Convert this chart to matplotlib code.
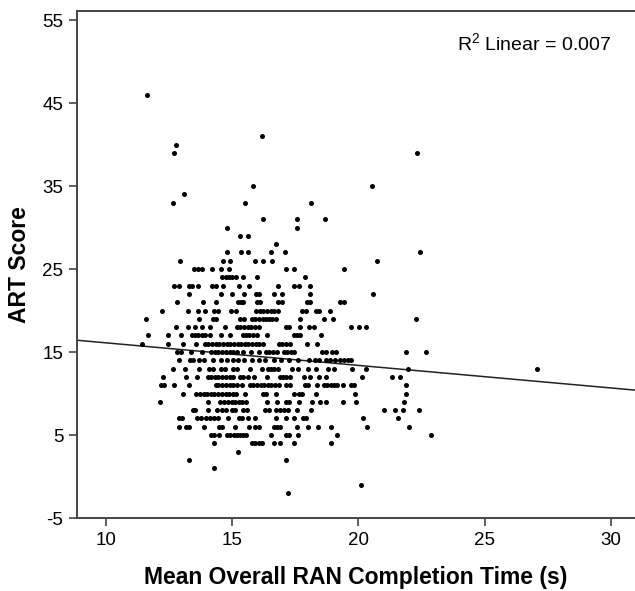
import matplotlib
matplotlib.use("Agg")
import matplotlib.pyplot as plt
import numpy as np

plt.rcParams['font.family'] = ['Liberation Sans', 'DejaVu Sans']
plt.rcParams['axes.unicode_minus'] = False

# ART score levels (integer scores) and the RAN times (s) of the children at each level
score_levels = [46, 41, 40, 39, 35, 34, 33, 31, 30, 29, 28, 27, 26, 25, 24, 23, 22, 21,
                20, 19, 18, 17, 16, 15, 14, 13, 12, 11, 10, 9, 8, 7, 6, 5, 4, 3, 2, 1, -1, -2]

times_by_score = [
    [11.63],
    [16.18],
    [12.80],
    [12.69, 22.34],
    [15.84, 20.53],
    [13.10],
    [12.66, 15.52, 18.13],
    [16.24, 17.57, 18.67],
    [14.78, 17.57],
    [15.31, 15.62],
    [16.74],
    [14.78, 15.34, 15.62, 16.56, 17.10, 22.42],
    [12.94, 14.64, 14.93, 15.90, 16.21, 16.59, 20.75],
    [13.50, 13.65, 13.79, 14.21, 14.58, 14.86, 17.15, 17.47, 19.44],
    [14.61, 14.74, 14.88, 15.01, 15.14, 15.42, 16.00, 17.90],
    [12.72, 12.88, 13.31, 13.42, 13.66, 14.22, 14.35, 14.64, 15.28, 15.66, 16.82, 17.46,
     17.65, 18.10],
    [13.30, 14.56, 15.01, 15.46, 15.95, 16.08, 16.66, 16.99, 18.10, 20.59],
    [12.83, 13.86, 14.38, 15.23, 15.34, 15.42, 15.97, 16.10, 16.82, 16.96, 17.97, 18.10,
     19.28, 19.44],
    [12.21, 13.25, 13.65, 13.92, 14.29, 14.43, 14.95, 15.14, 15.95, 16.10, 16.24, 16.38,
     16.53, 16.67, 16.82, 17.76, 17.92, 18.34, 18.46, 18.88],
    [11.58, 13.70, 14.24, 14.37, 15.31, 15.46, 15.78, 15.92, 16.06, 16.21, 16.34, 16.46,
     16.59, 16.74, 17.68, 18.64, 19.01, 22.29],
    [12.78, 13.25, 13.52, 13.79, 14.11, 14.72, 15.18, 15.33, 15.47, 15.62, 15.76, 15.90,
     16.08, 17.14, 17.26, 17.70, 18.03, 18.24, 19.70, 20.02, 20.32],
    [11.68, 12.48, 12.99, 13.41, 13.54, 13.66, 13.79, 13.92, 14.14, 14.56, 14.91, 15.42,
     15.55, 15.68, 15.82, 15.97, 16.37, 17.44, 17.57, 17.70, 18.53],
    [11.44, 12.48, 13.06, 13.58, 13.92, 14.06, 14.21, 14.35, 14.50, 14.64, 14.78, 14.93,
     15.07, 15.22, 15.36, 15.50, 15.65, 15.79, 15.94, 16.08, 16.22, 16.85, 16.99, 17.14,
     17.30, 17.95, 18.38],
    [12.82, 12.96, 13.38, 13.81, 14.18, 14.32, 14.46, 14.61, 14.75, 14.90, 15.04, 15.18,
     15.44, 15.73, 16.08, 16.34, 16.48, 16.62, 16.77, 17.04, 17.18, 17.33, 17.47, 18.56,
     18.70, 18.96, 19.10, 21.90, 22.69],
    [12.91, 13.33, 13.44, 13.70, 13.89, 14.24, 14.56, 14.80, 15.04, 15.25, 15.46, 15.79,
     16.08, 16.32, 16.64, 16.93, 17.26, 17.60, 18.03, 18.30, 18.43, 18.72, 18.88, 19.06,
     19.28, 19.42, 19.57, 19.71],
    [12.67, 13.12, 13.68, 14.10, 14.24, 14.56, 14.72, 15.02, 15.18, 15.70, 16.18, 16.43,
     16.54, 16.66, 16.80, 17.36, 17.60, 18.00, 18.32, 18.80, 19.04, 19.73, 20.30, 21.95,
     27.07],
    [12.27, 13.17, 13.63, 14.03, 14.16, 14.32, 14.46, 14.61, 14.75, 14.90, 15.04, 15.31,
     15.44, 15.63, 15.86, 16.40, 16.88, 17.01, 17.15, 17.30, 17.84, 18.10, 18.43, 18.70,
     20.16, 21.33, 21.63],
    [12.19, 12.32, 12.69, 13.31, 14.35, 14.46, 14.61, 14.75, 14.90, 15.04, 15.18, 15.41,
     15.70, 15.84, 15.98, 16.13, 16.27, 16.42, 16.56, 16.70, 16.85, 17.14, 17.28, 17.87,
     18.00, 18.37, 18.64, 18.77, 18.90, 19.02, 19.15, 19.41, 19.70, 19.81, 21.89],
    [13.07, 13.58, 13.73, 13.87, 14.02, 14.16, 14.30, 14.45, 14.59, 14.74, 14.88, 15.02,
     15.17, 15.52, 16.21, 16.34, 16.72, 17.44, 17.65, 17.78, 18.32, 19.86, 21.87],
    [12.16, 14.05, 14.54, 14.69, 14.83, 14.98, 15.12, 15.26, 15.41, 15.55, 16.40, 16.77,
     17.12, 17.26, 17.66, 18.16, 18.48, 18.72, 19.38, 19.92, 21.82],
    [13.44, 13.54, 14.03, 14.40, 14.61, 14.75, 14.98, 15.12, 15.44, 15.60, 16.30, 16.45,
     16.72, 16.88, 17.04, 17.20, 17.57, 18.11, 21.01, 21.46, 21.78, 22.40],
    [12.90, 13.02, 13.63, 13.76, 13.97, 14.14, 14.29, 14.43, 14.85, 15.28, 15.38, 15.63,
     15.89, 16.75, 17.15, 17.47, 17.81, 17.94, 20.19, 21.57],
    [12.88, 13.18, 13.31, 13.89, 14.48, 14.62, 15.12, 15.66, 15.92, 16.05, 16.64, 16.78,
     16.88, 17.57, 18.00, 18.42, 18.93, 20.34, 22.02],
    [14.18, 14.29, 14.48, 14.80, 14.93, 15.06, 15.18, 15.31, 15.44, 15.55, 16.54, 17.12,
     17.25, 17.60, 19.15, 22.86],
    [14.27, 15.78, 15.92, 16.05, 16.19, 16.67, 16.88, 17.46, 18.93],
    [15.25],
    [13.30, 17.14],
    [14.27],
    [20.10],
    [17.20],
]

# fitted linear trend
fit_intercept = 18.83
fit_slope = -0.272
r_squared = 0.007

x_ticks = [10, 15, 20, 25, 30]
y_ticks = [-5, 5, 15, 25, 35, 45, 55]

ran_time = np.concatenate([np.array(t) for t in times_by_score])
art_score = np.concatenate([np.full(len(t), s) for s, t in zip(score_levels, times_by_score)])

fig = plt.figure(figsize=(6.35, 5.91), dpi=100)
ax = fig.add_axes([0.1216, 0.1235, 0.8784, 0.858])

ax.scatter(ran_time, art_score, s=13, color='black', linewidths=0, zorder=3)

xlim = (8.87, 30.95)
line_x = np.array(xlim)
ax.plot(line_x, fit_intercept + fit_slope * line_x, color='#222222', linewidth=1.1, zorder=2)

ax.set_xlim(*xlim)
ax.set_ylim(-5, 56.1)
ax.set_xticks(x_ticks)
ax.set_yticks(y_ticks)
ax.tick_params(axis='both', length=6, width=1.2, color='#444444', labelsize=13.5, pad=4)

for side in ['left', 'bottom', 'top']:
    ax.spines[side].set_color('#444444')
    ax.spines[side].set_linewidth(1.4)
ax.spines['right'].set_visible(False)

ax.set_xlabel('Mean Overall RAN Completion Time (s)', fontsize=16.5, fontweight='bold', labelpad=12)
ax.set_ylabel('ART Score', fontsize=16.5, fontweight='bold', labelpad=8)

ax.text(23.92, 52.2, '$\\mathregular{R^2}$ Linear = %.3f' % r_squared, fontsize=14,
        va='center', ha='left')

fig.savefig('out.png', dpi=100)
